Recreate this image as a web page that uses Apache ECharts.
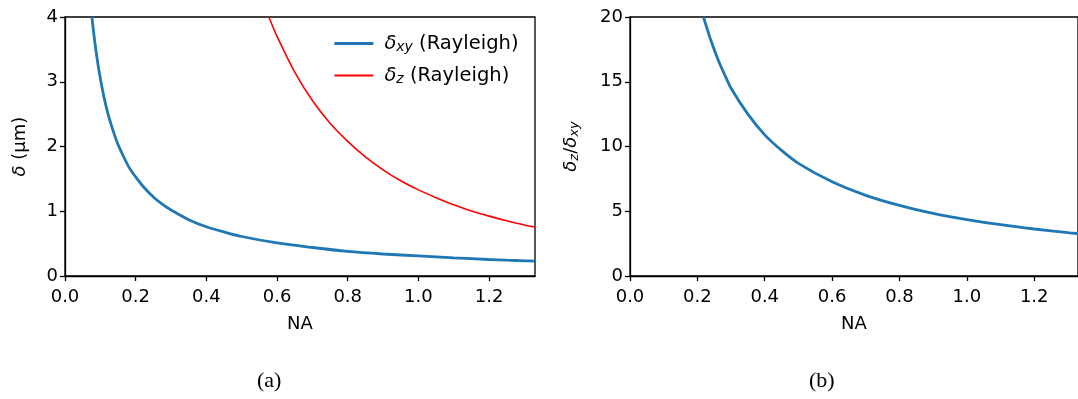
<!DOCTYPE html>
<html>
<head>
<meta charset="utf-8">
<script src="https://cdn.jsdelivr.net/npm/echarts@6/dist/echarts.min.js"></script>
<style>
  html, body { margin: 0; padding: 0; background: #fff; }
  #chart { width: 1078px; height: 399px; }
</style>
</head>
<body>
<div id="chart"></div>
<script>
// Lateral resolution (Rayleigh), µm, against numerical aperture
const naXY    = [0.076, 0.078, 0.08, 0.085, 0.09, 0.095, 0.10, 0.11, 0.12, 0.13, 0.14, 0.15, 0.16, 0.18, 0.20, 0.22, 0.25, 0.28, 0.30, 0.35, 0.40, 0.45, 0.50, 0.60, 0.70, 0.80, 0.90, 1.00, 1.10, 1.20, 1.25, 1.30, 1.33];
const deltaXY = [4.00, 3.91, 3.81, 3.59, 3.39, 3.21, 3.05, 2.77, 2.54, 2.35, 2.18, 2.03, 1.91, 1.69, 1.53, 1.39, 1.22, 1.09, 1.02, 0.87, 0.76, 0.68, 0.61, 0.51, 0.44, 0.38, 0.34, 0.31, 0.28, 0.255, 0.244, 0.235, 0.23];

// Axial resolution (Rayleigh), µm
const naZ    = [0.577, 0.60, 0.65, 0.70, 0.75, 0.80, 0.85, 0.90, 0.95, 1.00, 1.05, 1.10, 1.15, 1.20, 1.25, 1.30, 1.33];
const deltaZ = [4.00, 3.70, 3.15, 2.71, 2.36, 2.08, 1.84, 1.64, 1.47, 1.33, 1.21, 1.10, 1.005, 0.925, 0.852, 0.787, 0.752];

// Ratio of axial to lateral resolution
const naRatio = [0.218, 0.23, 0.24, 0.26, 0.28, 0.30, 0.35, 0.40, 0.45, 0.50, 0.60, 0.70, 0.80, 0.90, 1.00, 1.10, 1.20, 1.30, 1.33];
const ratio   = [20.0, 19.0, 18.2, 16.8, 15.6, 14.5, 12.5, 10.9, 9.7, 8.7, 7.27, 6.23, 5.45, 4.84, 4.36, 3.96, 3.63, 3.35, 3.28];

// Tick labels
const naTicks     = [0, 0.2, 0.4, 0.6, 0.8, 1.0, 1.2];
const deltaTicks  = [0, 1, 2, 3, 4];
const ratioTicks  = [0, 5, 10, 15, 20];

const FONT = 'DejaVu Sans';
const pairs = (xs, ys) => xs.map((x, i) => [x, ys[i]]);

const frame = { show: true, borderColor: '#000', borderWidth: 1.3, backgroundColor: 'transparent' };

function xAxisFor(gridIndex) {
  return {
    type: 'value', gridIndex, min: 0, max: 1.33,
    name: 'NA', nameLocation: 'middle', nameGap: 39,
    nameTextStyle: { fontFamily: FONT, fontSize: 18, color: '#000' },
    axisLine: { show: true, lineStyle: { color: '#000', width: 1.3 } },
    axisTick: { show: true, length: 5, customValues: naTicks, lineStyle: { color: '#000', width: 1.3 } },
    axisLabel: { customValues: naTicks, margin: 12, fontFamily: FONT, fontSize: 18, color: '#000',
                 formatter: v => v.toFixed(1) },
    splitLine: { show: false }
  };
}

function yAxisFor(gridIndex, max, ticks, name, gap, rich) {
  return {
    type: 'value', gridIndex, min: 0, max,
    name, nameLocation: 'middle', nameGap: gap, nameRotate: 90,
    nameTextStyle: { fontFamily: FONT, fontSize: 18, color: '#000', rich },
    axisLine: { show: true, lineStyle: { color: '#000', width: 1.3 } },
    axisTick: { show: true, length: 5, customValues: ticks, lineStyle: { color: '#000', width: 1.3 } },
    axisLabel: { customValues: ticks, margin: 7, fontFamily: FONT, fontSize: 18, color: '#000' },
    splitLine: { show: false }
  };
}

const nameRich = {
  i: { fontFamily: FONT, fontSize: 18, fontStyle: 'italic', color: '#000' },
  s: { fontFamily: FONT, fontSize: 13, fontStyle: 'italic', color: '#000', padding: [6, 0, 0, 0] },
  n: { fontFamily: FONT, fontSize: 18, color: '#000' }
};

const chart = echarts.init(document.getElementById('chart'), null, { renderer: 'canvas' });
chart.setOption({
  animation: false,
  backgroundColor: '#fff',
  grid: [
    Object.assign({ left: 65, top: 17, width: 470, height: 259 }, frame),
    Object.assign({ left: 630, top: 17, width: 459, height: 259 }, frame)
  ],
  xAxis: [xAxisFor(0), xAxisFor(1)],
  yAxis: [
    yAxisFor(0, 4, deltaTicks, '{i|δ}{n| (μm)}', 36, nameRich),
    yAxisFor(1, 20, ratioTicks, '{i|δ}{s|z}{n|/}{i|δ}{s|xy}', 49, nameRich)
  ],
  legend: {
    left: 333, top: 33, orient: 'vertical', padding: 0,
    itemWidth: 39, itemHeight: 14, itemGap: 11,
    itemStyle: { opacity: 0 },
    data: [
      { name: 'δxy (Rayleigh)', lineStyle: { width: 2.8 } },
      { name: 'δz (Rayleigh)', lineStyle: { width: 1.8 } }
    ],
    formatter: name => {
      const sub = name.startsWith('δxy') ? 'xy' : 'z';
      return '{i|δ}{s|' + sub + '}{n| (Rayleigh)}';
    },
    textStyle: {
      fontFamily: FONT, fontSize: 19.5, color: '#000', padding: [0, 0, 0, 6],
      rich: {
        i: { fontFamily: FONT, fontSize: 19.5, fontStyle: 'italic', lineHeight: 21 },
        s: { fontFamily: FONT, fontSize: 14, fontStyle: 'italic', lineHeight: 21, padding: [7, 0, 0, 0] },
        n: { fontFamily: FONT, fontSize: 19.5, lineHeight: 21 }
      }
    }
  },
  series: [
    { name: 'δxy (Rayleigh)', type: 'line', xAxisIndex: 0, yAxisIndex: 0, data: pairs(naXY, deltaXY),
      symbol: 'none', smooth: 0.3, lineStyle: { color: '#1f77b4', width: 2.8 },
      itemStyle: { color: '#1f77b4' } },
    { name: 'δz (Rayleigh)', type: 'line', xAxisIndex: 0, yAxisIndex: 0, data: pairs(naZ, deltaZ),
      symbol: 'none', smooth: 0.3, lineStyle: { color: '#ff0000', width: 1.6 },
      itemStyle: { color: '#ff0000' } },
    { name: 'ratio', type: 'line', xAxisIndex: 1, yAxisIndex: 1, data: pairs(naRatio, ratio),
      symbol: 'none', smooth: 0.3, lineStyle: { color: '#1f77b4', width: 2.8 },
      itemStyle: { color: '#1f77b4' } }
  ],
  graphic: [
    { type: 'text', left: 257, top: 370, style: { text: '(a)', font: '22px "Liberation Serif"', fill: '#000' } },
    { type: 'text', left: 809, top: 370, style: { text: '(b)', font: '22px "Liberation Serif"', fill: '#000' } }
  ]
});
</script>
</body>
</html>
